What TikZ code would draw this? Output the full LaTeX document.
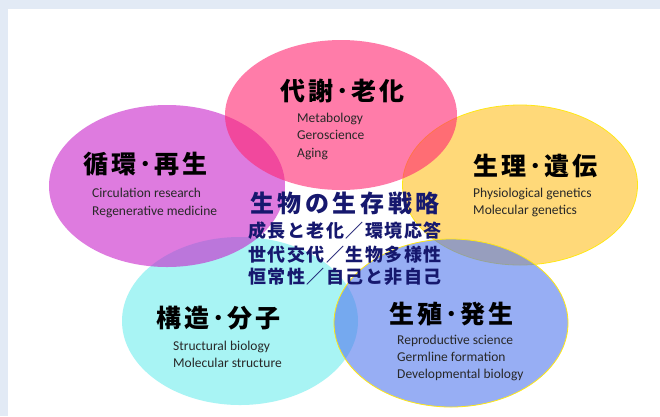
\documentclass[tikz,border=0pt]{standalone}
\usepackage{fontspec}
\usetikzlibrary{shapes.geometric}
\setmainfont{Carlito}
\newfontfamily\jpt{Noto Sans CJK JP}[LetterSpace=12]
\newfontfamily\jpc{Noto Sans CJK JP}[LetterSpace=15]
\newfontfamily\jps{Noto Sans CJK JP}[LetterSpace=8]
\definecolor{bgblue}{RGB}{226,234,245}
\definecolor{cPink}{RGB}{255,38,113}
\definecolor{cMag}{RGB}{200,35,203}
\definecolor{cYel}{RGB}{255,193,33}
\definecolor{cCyan}{RGB}{110,237,237}
\definecolor{cBlue}{RGB}{83,120,237}
\definecolor{rimYel}{RGB}{255,232,20}
\definecolor{navy}{RGB}{22,24,110}
\definecolor{engtxt}{RGB}{40,40,40}
\begin{document}
\begin{tikzpicture}[x=1pt,y=-1pt,
  blob/.style={ellipse, inner sep=0pt, fill opacity=0.6},
  ttl/.style={font=\jpt\bfseries\fontsize{25}{30}\selectfont, text=black, anchor=west, inner sep=0pt},
  ctr/.style={font=\jpc\bfseries\fontsize{24}{28}\selectfont, text=navy, inner sep=0pt},
  sub/.style={font=\jps\bfseries\fontsize{18}{22}\selectfont, text=navy, inner sep=0pt},
  eng/.style={font=\fontsize{13.5}{16}\selectfont, text=engtxt, anchor=base west, inner sep=0pt}]
\fill[bgblue] (0,0) rectangle (660,416);
\fill[white] (8,9) rectangle (660,416);
\useasboundingbox (0,0) rectangle (660,416);
% ellipses (drawing order: cyan, magenta, yellow, pink, blue)
\node[blob, fill=cCyan, minimum width=236pt, minimum height=168pt] (cyan) at (240,321) {};
\node[blob, fill=cMag, minimum width=236pt, minimum height=162pt] (mag) at (167,186) {};
\node[blob, fill=cYel, draw=rimYel, line width=0.8pt, minimum width=235pt, minimum height=160pt] (yel) at (520,185) {};
\node[blob, fill=cPink, minimum width=232pt, minimum height=150pt] (pink) at (341,115) {};
\node[blob, fill=cBlue, draw=rimYel, line width=0.8pt, minimum width=234pt, minimum height=168pt] (blue) at (451,323) {};
% titles
\node[ttl] (tPink) at (280,91) {代謝･老化};
\node[ttl] (tMag) at (83,164) {循環･再生};
\node[ttl] (tYel) at (473,166) {生理･遺伝};
\node[ttl] (tCyan) at (156,318) {構造･分子};
\node[ttl] (tBlue) at (389,314) {生殖･発生};
% english
\node[eng] (e1) at (297,122) {Metabology};
\node[eng] (e2) at (297,139.5) {Geroscience};
\node[eng] (e3) at (297,157) {Aging};
\node[eng] (e4) at (92,197) {Circulation research};
\node[eng] (e5) at (92,215) {Regenerative medicine};
\node[eng] (e6) at (473,197) {Physiological genetics};
\node[eng] (e7) at (473,214) {Molecular genetics};
\node[eng] (e8) at (173,350) {Structural biology};
\node[eng] (e9) at (173,367) {Molecular structure};
\node[eng] (e10) at (397,344) {Reproductive science};
\node[eng] (e11) at (397,361) {Germline formation};
\node[eng] (e12) at (397,378) {Developmental biology};
% center
\node[ctr] (c0) at (345,203) {生物の生存戦略};
\node[sub] (c1) at (345,231) {成長と老化／環境応答};
\node[sub] (c2) at (345,255) {世代交代／生物多様性};
\node[sub] (c3) at (345,277) {恒常性／自己と非自己};
\end{tikzpicture}
\end{document}
